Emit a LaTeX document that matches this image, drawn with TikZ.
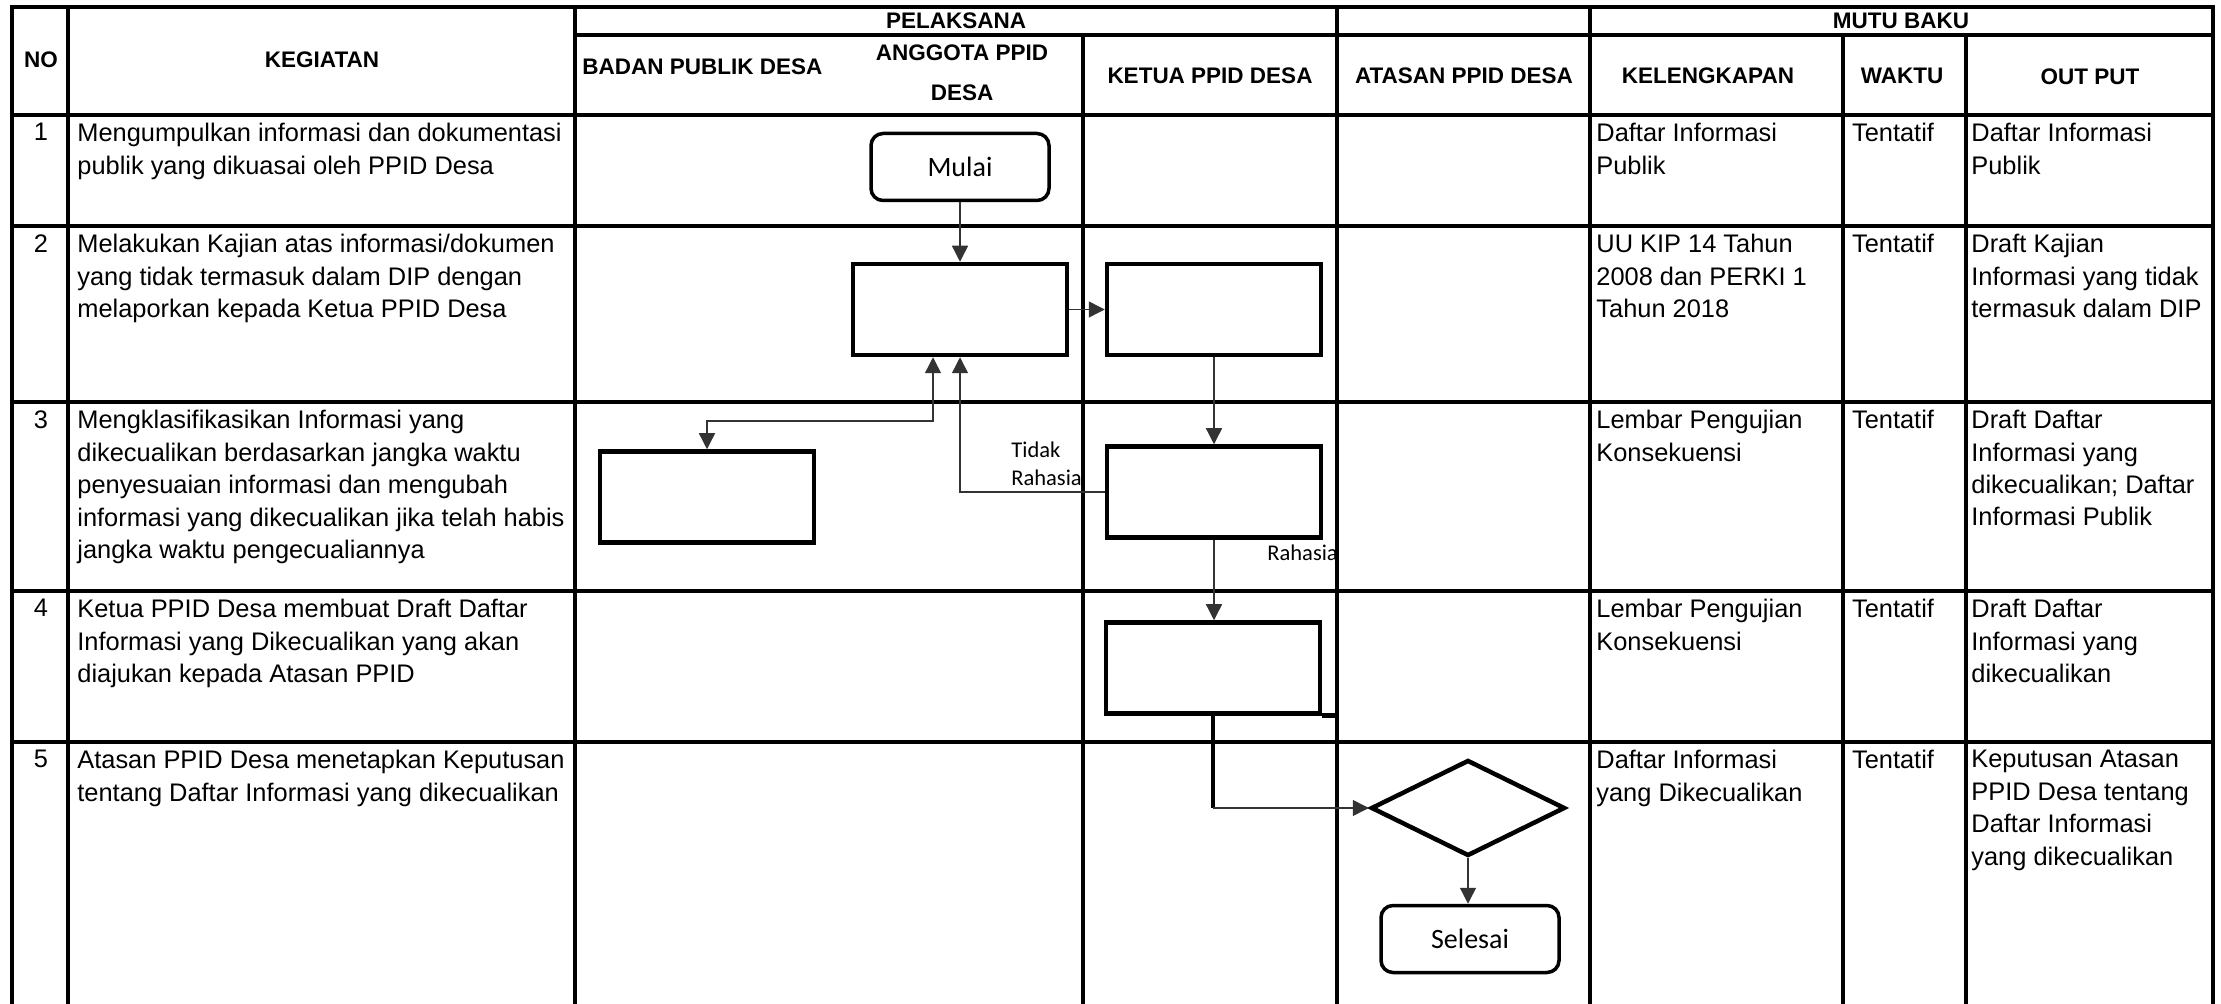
\documentclass[tikz,border=0pt]{standalone}
\usepackage{fontspec}
\setmainfont{Liberation Sans}
\newfontfamily\flowfont{Carlito}
\usetikzlibrary{positioning,arrows.meta,shapes.geometric}

\tikzset{
  tabline/.style={line width=2pt, line cap=rect},
  headtext/.style={inner sep=0pt, font=\bfseries\fontsize{11.25pt}{13pt}\selectfont},
  celltext/.style={anchor=north west, align=left, inner sep=0pt, font=\fontsize{12.7pt}{16.2pt}\selectfont},
  procbox/.style={draw, line width=2.25pt, minimum width=107pt, minimum height=45.5pt, inner sep=0pt},
  termbox/.style={draw, line width=1.75pt, rounded corners=6pt, minimum width=89pt, minimum height=33.5pt, inner sep=0pt, font=\flowfont\fontsize{14pt}{16pt}\selectfont},
  decbox/.style={draw, diamond, line width=2.25pt, minimum width=97pt, minimum height=48pt, inner sep=0pt},
  flowlabel/.style={inner sep=0pt, align=left, font=\flowfont\fontsize{11.25pt}{14pt}\selectfont},
  flow/.style={draw=black!80, line width=0.7pt, ->},
}

\begin{document}
\begin{tikzpicture}[x=0.5pt, y=-0.5pt, >={Triangle[length=8pt,width=8pt]}]
\useasboundingbox (0,0) rectangle (2221,1004);

% garis tabel
\foreach \y in {7,115,226,402,591,742}
  \draw[tabline] (12,\y) -- (2213,\y);
\draw[tabline] (575,35) -- (2213,35);
\foreach \x in {12,68,575,1337,1590,2213}
  \draw[tabline] (\x,7) -- (\x,1004);
\foreach \x in {1083,1843,1966}
  \draw[tabline] (\x,35) -- (\x,1004);

% judul kolom
\node[headtext] (hno) at (41,60) {NO};
\node[headtext] (hkeg) at (322,60) {KEGIATAN};
\node[headtext] (hpel) at (956,21) {PELAKSANA};
\node[headtext] (hmutu) at (1901,21) {MUTU BAKU};
\node[headtext, anchor=west] (hbadan) at (582,67) {BADAN PUBLIK DESA};
\node[headtext, align=center, font=\bfseries\fontsize{11.25pt}{20pt}\selectfont] (hanggota) at (962,73) {ANGGOTA PPID\\DESA};
\node[headtext] (hketua) at (1210,76) {KETUA PPID DESA};
\node[headtext] (hatasan) at (1464,76) {ATASAN PPID DESA};
\node[headtext] (hkel) at (1708,76) {KELENGKAPAN};
\node[headtext] (hwaktu) at (1902,76) {WAKTU};
\node[headtext] (hout) at (2090,77) {OUT PUT};

% baris 1
\node[celltext, anchor=north] (no1) at (41,123) {1};
\node[celltext] (keg1) at (77,123) {Mengumpulkan informasi dan dokumentasi\\publik yang dikuasai oleh PPID Desa};
\node[celltext] (kel1) at (1596,123) {Daftar Informasi\\Publik};
\node[celltext, anchor=north] (wkt1) at (1893,123) {Tentatif};
\node[celltext] (out1) at (1971,123) {Daftar Informasi\\Publik};

% baris 2
\node[celltext, anchor=north] (no2) at (41,234) {2};
\node[celltext] (keg2) at (77,234) {Melakukan Kajian atas informasi/dokumen\\yang tidak termasuk dalam DIP dengan\\melaporkan kepada Ketua PPID Desa};
\node[celltext] (kel2) at (1596,234) {UU KIP 14 Tahun\\2008 dan PERKI 1\\Tahun 2018};
\node[celltext, anchor=north] (wkt2) at (1893,234) {Tentatif};
\node[celltext] (out2) at (1971,234) {Draft Kajian\\Informasi yang tidak\\termasuk dalam DIP};

% baris 3
\node[celltext, anchor=north] (no3) at (41,410) {3};
\node[celltext] (keg3) at (77,410) {Mengklasifikasikan Informasi yang\\dikecualikan berdasarkan jangka waktu\\penyesuaian informasi dan mengubah\\informasi yang dikecualikan jika telah habis\\jangka waktu pengecualiannya};
\node[celltext] (kel3) at (1596,410) {Lembar Pengujian\\Konsekuensi};
\node[celltext, anchor=north] (wkt3) at (1893,410) {Tentatif};
\node[celltext] (out3) at (1971,410) {Draft Daftar\\Informasi yang\\dikecualikan; Daftar\\Informasi Publik};

% baris 4
\node[celltext, anchor=north] (no4) at (41,599) {4};
\node[celltext] (keg4) at (77,599) {Ketua PPID Desa membuat Draft Daftar\\Informasi yang Dikecualikan yang akan\\diajukan kepada Atasan PPID};
\node[celltext] (kel4) at (1596,599) {Lembar Pengujian\\Konsekuensi};
\node[celltext, anchor=north] (wkt4) at (1893,599) {Tentatif};
\node[celltext] (out4) at (1971,599) {Draft Daftar\\Informasi yang\\dikecualikan};

% baris 5
\node[celltext, anchor=north] (no5) at (41,750) {5};
\node[celltext] (keg5) at (77,750) {Atasan PPID Desa menetapkan Keputusan\\tentang Daftar Informasi yang dikecualikan};
\node[celltext] (kel5) at (1596,750) {Daftar Informasi\\yang Dikecualikan};
\node[celltext, anchor=north] (wkt5) at (1893,750) {Tentatif};
\node[celltext] (out5) at (1971,750) {Keputusan Atasan\\PPID Desa tentang\\Daftar Informasi\\yang dikecualikan};

% bagan alir
\node[termbox] (mulai) at (960,167) {Mulai};
\node[procbox] (kaji) at (960,309.5) {};
\node[procbox] (telaah) at (1214,309.5) {};
\node[procbox] (klasifikasi) at (1214,492) {};
\node[procbox] (badan) at (707,497) {};
\node[procbox] (draft) at (1213,668) {};
\node[decbox] (tetap) at (1468,808) {};
\node[termbox] (selesai) at (1470,939) {Selesai};

\node[flowlabel, anchor=north west] (tidak) at (1011,441) {Tidak\\Rahasia};
\node[flowlabel, anchor=west] (rahasia) at (1267,553) {Rahasia};

\draw[flow] (mulai) -- (kaji);
\draw[flow] (kaji) -- (telaah);
\draw[flow] (telaah) -- (klasifikasi);
\draw[flow] (klasifikasi.west) -| (kaji.south);
\coordinate (cabang) at (933,421);
\draw[flow, <->] (kaji.south -| cabang) -- (cabang) -| (badan.north);
\draw[flow] (klasifikasi.south) -- (klasifikasi.south |- draft.north);
\coordinate (siku) at (draft.south |- tetap.west);
\draw[line width=2.25pt] (draft.south) -- (siku);
\draw[flow] (siku) -- (tetap.west);
\draw[line width=2.25pt] (draft.south east) -- ++(16,0);
\draw[flow] (tetap.south) -- (tetap.south |- selesai.north);
\end{tikzpicture}
\end{document}
